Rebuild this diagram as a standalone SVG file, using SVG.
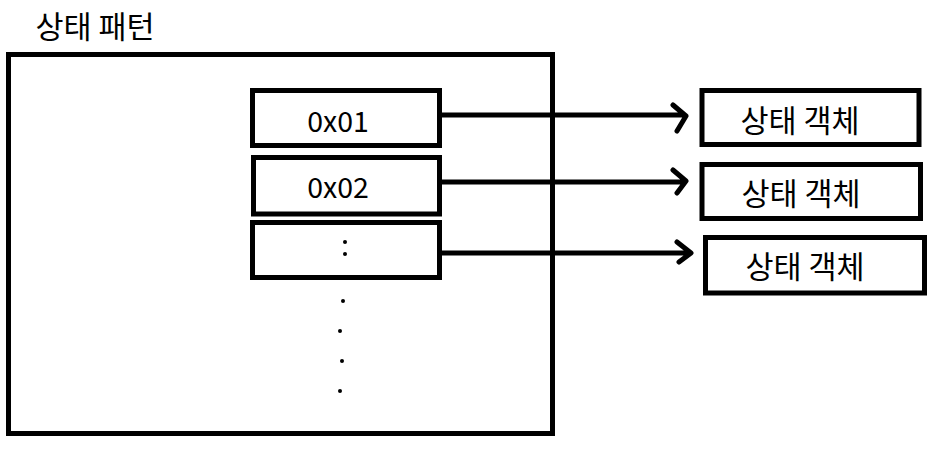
<svg xmlns="http://www.w3.org/2000/svg" width="937" height="449" viewBox="0 0 937 449">
<style>
.box{fill:#fff;stroke:#000;stroke-width:5}
.t{font-family:"Noto Sans CJK KR","Noto Sans",sans-serif;font-size:28.5px;fill:#000;text-anchor:middle}
.k{font-family:"Noto Sans CJK KR","Noto Sans",sans-serif;font-size:30.5px;fill:#000;text-anchor:middle}
.c{fill:none;stroke:#000;stroke-width:5;stroke-linecap:round;stroke-linejoin:round}
</style>
<rect width="937" height="449" fill="#fff"/>
<g id="title"><text class="k" x="95" y="38">상태 패턴</text></g>
<g id="container"><rect class="box" x="8.5" y="54.5" width="544" height="379"/></g>
<g id="key1"><rect class="box" x="252.5" y="90.5" width="187" height="55"/><text class="t" x="338" y="132">0x01</text></g>
<g id="key2"><rect class="box" x="253.5" y="157.5" width="186" height="56.5"/><text class="t" x="338" y="198">0x02</text></g>
<g id="key3"><rect class="box" x="252.5" y="222.5" width="187" height="55"/><circle cx="345" cy="242" r="2"/><circle cx="345" cy="254" r="2"/></g>
<g id="dots"><circle cx="343" cy="301" r="2"/><circle cx="340" cy="331" r="2"/><circle cx="342" cy="361" r="2"/><circle cx="340" cy="391" r="2"/></g>
<g id="obj1"><rect class="box" x="702" y="90.5" width="217" height="54"/><text class="k" x="800" y="132">상태 객체</text></g>
<g id="obj2"><rect class="box" x="702" y="164.5" width="218.5" height="54"/><text class="k" x="801" y="205">상태 객체</text></g>
<g id="obj3"><rect class="box" x="705.5" y="237.5" width="219" height="55.5"/><text class="k" x="805" y="278">상태 객체</text></g>
<g id="connectors">
<path class="c" d="M442 115 H684 M673 105 L686 116 L677 131"/>
<path class="c" d="M442 182 H684 M673 170 L686 181 L677 193"/>
<path class="c" d="M442 253 H689 M677 242 L691 253 L679 262"/>
</g>
</svg>
